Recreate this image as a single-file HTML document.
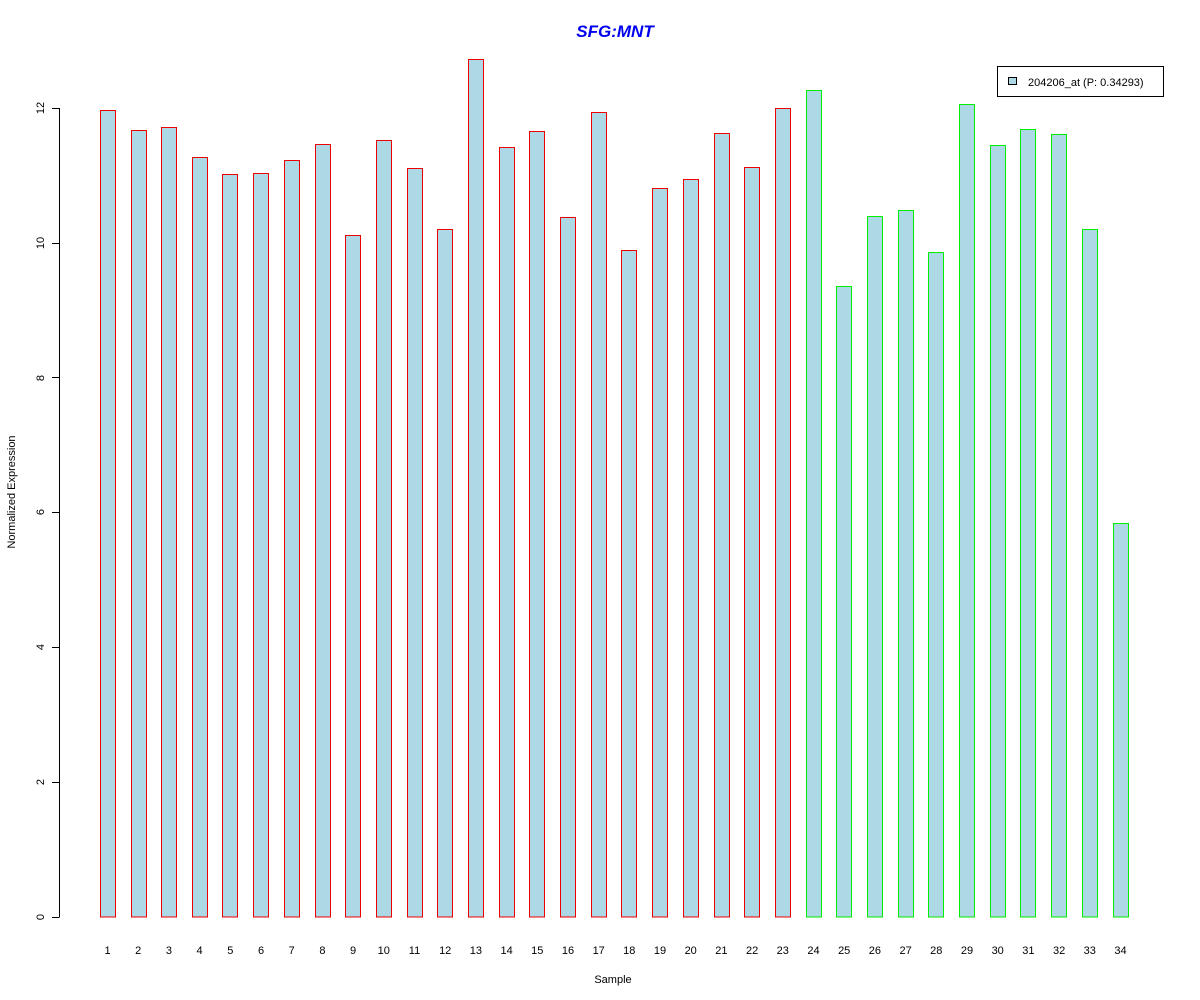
<!DOCTYPE html>
<html><head><meta charset="utf-8"><style>html,body{margin:0;padding:0;background:#fff}svg{display:block}</style></head>
<body>
<svg width="1200" height="1000" xmlns="http://www.w3.org/2000/svg" font-family="Liberation Sans, Arial, sans-serif">
<rect width="1200" height="1000" fill="#fff"/>
<text x="615" y="37" text-anchor="middle" font-size="17" font-weight="bold" font-style="italic" fill="#0000ee">SFG:MNT</text>
<g stroke="#000" stroke-width="1">
<line x1="59.5" y1="108" x2="59.5" y2="917"/>
<line x1="52" y1="917.5" x2="59.5" y2="917.5"/>
<line x1="52" y1="782.5" x2="59.5" y2="782.5"/>
<line x1="52" y1="647.5" x2="59.5" y2="647.5"/>
<line x1="52" y1="512.5" x2="59.5" y2="512.5"/>
<line x1="52" y1="377.5" x2="59.5" y2="377.5"/>
<line x1="52" y1="243.5" x2="59.5" y2="243.5"/>
<line x1="52" y1="108.5" x2="59.5" y2="108.5"/>
</g>
<g font-size="11" text-anchor="middle" fill="#000">
<text transform="translate(44,917) rotate(-90)">0</text>
<text transform="translate(44,782) rotate(-90)">2</text>
<text transform="translate(44,647) rotate(-90)">4</text>
<text transform="translate(44,512) rotate(-90)">6</text>
<text transform="translate(44,378) rotate(-90)">8</text>
<text transform="translate(44,243) rotate(-90)">10</text>
<text transform="translate(44,108) rotate(-90)">12</text>
<text transform="translate(15,492) rotate(-90)">Normalized Expression</text>
<text x="613" y="983">Sample</text>
</g>
<g fill="#add8e6" stroke="#ee0000" stroke-width="1" shape-rendering="crispEdges">
<rect x="100.5" y="110.5" width="15" height="806.5"/>
<rect x="131.5" y="130.5" width="15" height="786.5"/>
<rect x="161.5" y="127.5" width="15" height="789.5"/>
<rect x="192.5" y="157.5" width="15" height="759.5"/>
<rect x="222.5" y="174.5" width="15" height="742.5"/>
<rect x="253.5" y="173.5" width="15" height="743.5"/>
<rect x="284.5" y="160.5" width="15" height="756.5"/>
<rect x="315.5" y="144.5" width="15" height="772.5"/>
<rect x="345.5" y="235.5" width="15" height="681.5"/>
<rect x="376.5" y="140.5" width="15" height="776.5"/>
<rect x="407.5" y="168.5" width="15" height="748.5"/>
<rect x="437.5" y="229.5" width="15" height="687.5"/>
<rect x="468.5" y="59.5" width="15" height="857.5"/>
<rect x="499.5" y="147.5" width="15" height="769.5"/>
<rect x="529.5" y="131.5" width="15" height="785.5"/>
<rect x="560.5" y="217.5" width="15" height="699.5"/>
<rect x="591.5" y="112.5" width="15" height="804.5"/>
<rect x="621.5" y="250.5" width="15" height="666.5"/>
<rect x="652.5" y="188.5" width="15" height="728.5"/>
<rect x="683.5" y="179.5" width="15" height="737.5"/>
<rect x="714.5" y="133.5" width="15" height="783.5"/>
<rect x="744.5" y="167.5" width="15" height="749.5"/>
<rect x="775.5" y="108.5" width="15" height="808.5"/>
</g>
<g fill="#add8e6" stroke="#00ee00" stroke-width="1" shape-rendering="crispEdges">
<rect x="806.5" y="90.5" width="15" height="826.5"/>
<rect x="836.5" y="286.5" width="15" height="630.5"/>
<rect x="867.5" y="216.5" width="15" height="700.5"/>
<rect x="898.5" y="210.5" width="15" height="706.5"/>
<rect x="928.5" y="252.5" width="15" height="664.5"/>
<rect x="959.5" y="104.5" width="15" height="812.5"/>
<rect x="990.5" y="145.5" width="15" height="771.5"/>
<rect x="1020.5" y="129.5" width="15" height="787.5"/>
<rect x="1051.5" y="134.5" width="15" height="782.5"/>
<rect x="1082.5" y="229.5" width="15" height="687.5"/>
<rect x="1113.5" y="523.5" width="15" height="393.5"/>
</g>
<g font-size="11" text-anchor="middle" fill="#000">
<text x="107.5" y="954">1</text><text x="138.2" y="954">2</text><text x="168.9" y="954">3</text><text x="199.6" y="954">4</text><text x="230.3" y="954">5</text><text x="261.0" y="954">6</text><text x="291.7" y="954">7</text><text x="322.4" y="954">8</text><text x="353.1" y="954">9</text><text x="383.8" y="954">10</text><text x="414.5" y="954">11</text><text x="445.2" y="954">12</text><text x="475.9" y="954">13</text><text x="506.6" y="954">14</text><text x="537.3" y="954">15</text><text x="568.0" y="954">16</text><text x="598.7" y="954">17</text><text x="629.3" y="954">18</text><text x="660.0" y="954">19</text><text x="690.7" y="954">20</text><text x="721.4" y="954">21</text><text x="752.1" y="954">22</text><text x="782.8" y="954">23</text><text x="813.5" y="954">24</text><text x="844.2" y="954">25</text><text x="874.9" y="954">26</text><text x="905.6" y="954">27</text><text x="936.3" y="954">28</text><text x="967.0" y="954">29</text><text x="997.7" y="954">30</text><text x="1028.4" y="954">31</text><text x="1059.1" y="954">32</text><text x="1089.8" y="954">33</text><text x="1120.5" y="954">34</text>
</g>
<rect x="997.5" y="66.5" width="166" height="30" fill="#fff" stroke="#000"/>
<rect x="1008.5" y="77.5" width="8" height="7" fill="#add8e6" stroke="#000"/>
<text x="1028" y="86" font-size="11" fill="#000">204206_at (P: 0.34293)</text>
</svg>
</body></html>
